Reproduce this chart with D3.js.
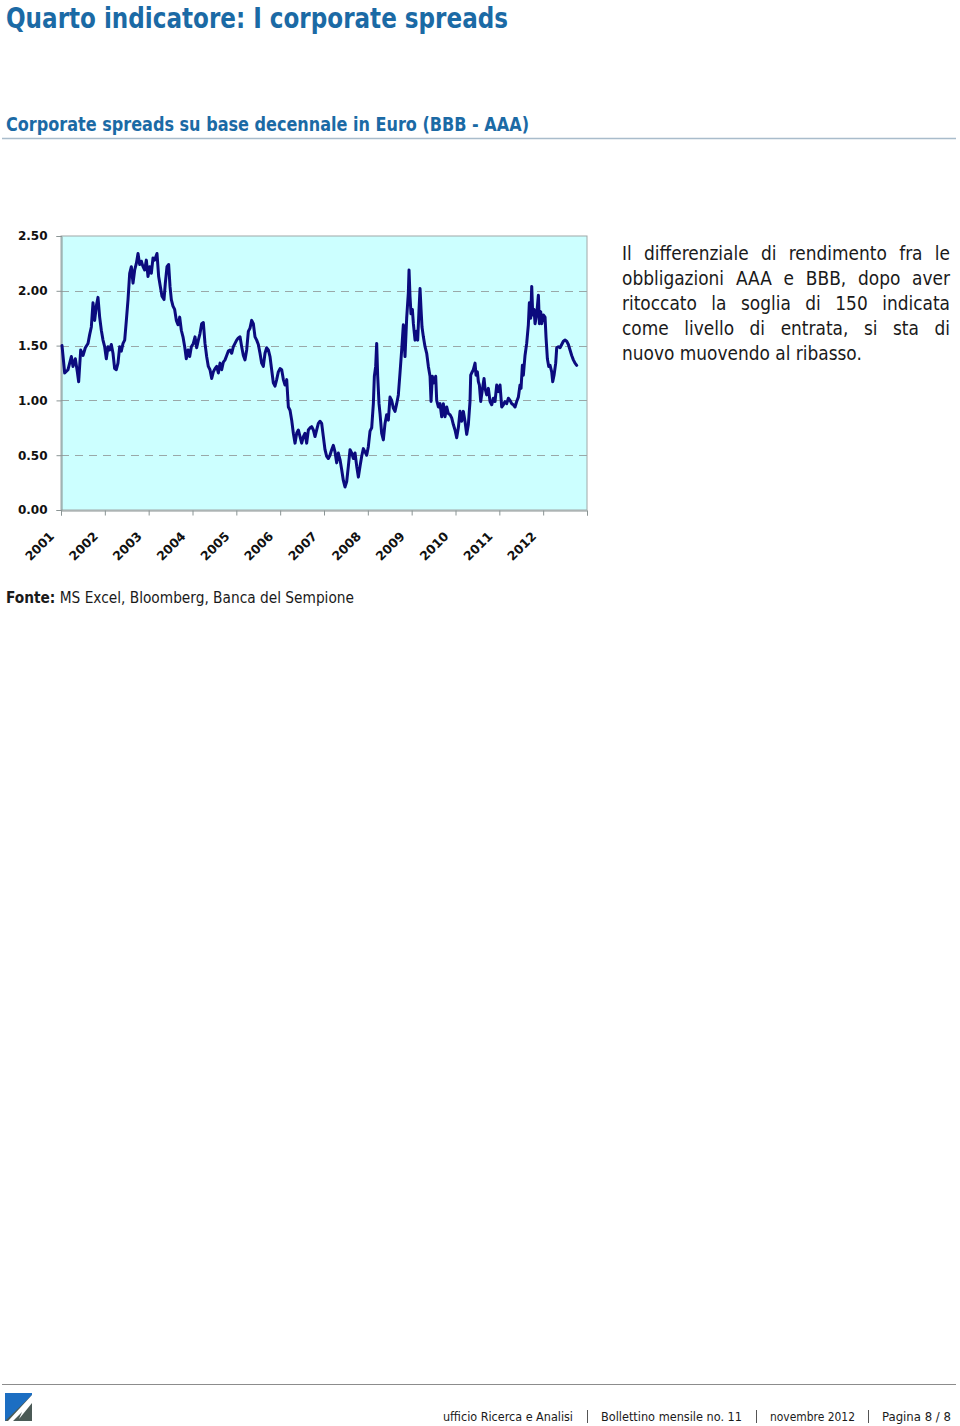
<!DOCTYPE html>
<html>
<head>
<meta charset="utf-8">
<script src="https://cdn.jsdelivr.net/npm/d3@7/dist/d3.min.js"></script>
<style>
  html, body { margin: 0; padding: 0; background: #fff; }
  svg { display: block; }
</style>
</head>
<body>
<svg id="page" width="960" height="1426"></svg>
<script>
// ---- Data ----
const years = ["2001","2002","2003","2004","2005","2006","2007","2008","2009","2010","2011","2012"];
const yTicks = [0, 0.5, 1.0, 1.5, 2.0, 2.5];

// decimal-year dates of the observations
const dates = [
2001.023,2001.084,2001.160,2001.236,2001.274,2001.327,2001.373,2001.403,2001.449,2001.502,2001.555,2001.616,2001.654,2001.692,2001.730,2001.768,2001.806,2001.844,2001.882,2001.920,2001.958,2001.996,
2002.034,2002.072,2002.110,2002.148,2002.186,2002.224,2002.262,2002.300,2002.339,2002.376,2002.415,2002.453,2002.491,2002.529,2002.567,2002.605,2002.643,2002.681,2002.719,2002.757,2002.795,2002.833,2002.871,2002.909,2002.947,2002.985,
2003.023,2003.061,2003.099,2003.137,2003.190,2003.228,2003.266,2003.304,2003.350,2003.380,2003.418,2003.456,2003.487,2003.517,2003.555,2003.593,2003.631,2003.669,2003.708,2003.745,2003.783,2003.822,2003.859,2003.898,2003.936,2003.974,
2004.019,2004.057,2004.095,2004.133,2004.171,2004.209,2004.247,2004.285,2004.323,2004.361,2004.399,2004.438,2004.475,2004.514,2004.552,2004.590,2004.628,2004.666,2004.704,2004.742,2004.780,2004.818,2004.856,2004.894,2004.932,2004.970,
2005.008,2005.046,2005.084,2005.122,2005.160,2005.198,2005.236,2005.274,2005.312,2005.350,2005.388,2005.426,2005.464,2005.502,2005.540,2005.578,2005.616,2005.654,2005.692,2005.730,2005.768,2005.806,2005.844,2005.882,2005.920,2005.958,2005.997,
2006.035,2006.073,2006.111,2006.149,2006.187,2006.225,2006.263,2006.301,2006.339,2006.377,2006.415,2006.453,2006.491,2006.529,2006.567,2006.605,2006.643,2006.681,2006.719,2006.757,2006.795,2006.833,2006.871,2006.909,2006.947,2006.985,
2007.023,2007.061,2007.099,2007.137,2007.175,2007.213,2007.251,2007.289,2007.327,2007.365,2007.403,2007.441,2007.479,2007.518,2007.556,2007.594,2007.632,2007.670,2007.708,2007.746,2007.784,2007.822,2007.860,2007.898,2007.936,2007.974,
2008.012,2008.050,2008.088,2008.126,2008.149,2008.179,2008.202,2008.225,2008.255,2008.278,2008.316,2008.354,2008.392,2008.430,2008.468,2008.506,2008.544,2008.582,2008.620,2008.658,2008.696,2008.734,2008.772,2008.810,2008.848,2008.886,2008.924,2008.940,2008.962,2008.985,
2009.016,2009.039,2009.077,2009.115,2009.137,2009.168,2009.191,2009.214,2009.236,2009.267,2009.305,2009.343,2009.381,2009.419,2009.442,2009.472,2009.510,2009.548,2009.571,2009.609,2009.647,2009.685,2009.723,2009.761,2009.799,2009.837,2009.875,2009.913,2009.951,2009.989,
2010.027,2010.065,2010.103,2010.141,2010.179,2010.217,2010.255,2010.293,2010.331,2010.347,2010.369,2010.407,2010.446,2010.468,2010.499,2010.522,2010.545,2010.575,2010.613,2010.651,2010.674,2010.712,2010.750,2010.788,2010.826,2010.864,2010.902,2010.940,2010.978,
2011.016,2011.054,2011.092,2011.130,2011.168,2011.206,2011.244,2011.282,2011.320,2011.358,2011.396,2011.434,2011.472,2011.495,2011.526,2011.548,2011.586,2011.624,2011.662,2011.685,2011.716,2011.739,2011.762,2011.792,2011.815,2011.853,2011.891,2011.914,2011.944,2011.967,
2012.005,2012.043,2012.066,2012.096,2012.127,2012.157,2012.195,2012.218,2012.248,2012.286,2012.309,2012.347,2012.385,2012.423,2012.461,2012.499,2012.537,2012.575,2012.613,2012.651,2012.689,2012.727,2012.765
];

// BBB - AAA spread (percentage points)
const spreads = [
1.50,1.25,1.28,1.40,1.31,1.38,1.26,1.17,1.46,1.41,1.48,1.52,1.60,1.67,1.89,1.73,1.86,1.94,1.76,1.64,1.55,1.49,
1.38,1.49,1.46,1.51,1.43,1.29,1.28,1.34,1.49,1.45,1.52,1.55,1.73,1.92,2.16,2.22,2.07,2.19,2.25,2.34,2.24,2.27,2.22,2.19,2.28,2.13,
2.22,2.16,2.30,2.28,2.34,2.13,2.04,1.95,1.92,2.07,2.22,2.24,2.04,1.92,1.86,1.83,1.73,1.69,1.76,1.64,1.58,1.49,1.38,1.46,1.40,1.49,
1.52,1.58,1.48,1.55,1.61,1.70,1.71,1.52,1.40,1.31,1.28,1.20,1.26,1.29,1.31,1.25,1.34,1.28,1.35,1.37,1.41,1.45,1.46,1.43,1.49,1.52,
1.55,1.57,1.58,1.49,1.41,1.37,1.46,1.63,1.66,1.73,1.70,1.58,1.55,1.51,1.43,1.34,1.31,1.43,1.48,1.46,1.40,1.28,1.16,1.13,1.19,1.26,1.29,
1.28,1.19,1.14,1.19,0.94,0.91,0.82,0.70,0.61,0.70,0.73,0.67,0.61,0.67,0.70,0.61,0.73,0.75,0.76,0.73,0.67,0.73,0.79,0.81,0.79,0.67,
0.55,0.49,0.47,0.50,0.55,0.59,0.53,0.43,0.52,0.46,0.37,0.27,0.21,0.26,0.40,0.55,0.52,0.47,0.52,0.40,0.30,0.40,0.49,0.56,0.53,0.50,
0.58,0.72,0.75,0.97,1.22,1.31,1.52,1.22,0.97,0.88,0.70,0.64,0.79,0.87,0.82,1.03,1.00,0.93,0.90,0.97,1.05,1.25,1.46,1.69,1.40,1.75,1.98,2.19,1.95,1.79,
1.83,1.70,1.55,1.63,1.55,1.83,2.02,1.83,1.67,1.58,1.49,1.43,1.31,1.22,0.99,1.22,1.16,1.22,1.00,0.94,0.97,0.85,0.97,0.85,0.94,0.88,0.87,0.84,0.78,0.73,
0.66,0.75,0.90,0.81,0.90,0.81,0.69,0.78,0.99,1.23,1.25,1.28,1.34,1.23,1.26,1.17,1.14,0.99,1.10,1.20,1.11,1.05,1.11,0.99,0.96,1.02,0.99,1.14,1.08,
1.14,0.94,0.96,0.99,0.97,1.02,1.00,0.97,0.96,0.94,0.99,1.03,1.14,1.11,1.32,1.23,1.41,1.52,1.69,1.89,1.75,2.04,1.78,1.83,1.70,1.79,1.96,1.70,1.81,1.70,
1.78,1.76,1.57,1.38,1.31,1.32,1.26,1.17,1.23,1.34,1.48,1.49,1.48,1.51,1.54,1.55,1.54,1.51,1.46,1.41,1.37,1.34,1.32
];

const paragraph = [
  "Il differenziale di rendimento fra le",
  "obbligazioni AAA e BBB, dopo aver",
  "ritoccato la soglia di 150 indicata",
  "come livello di entrata, si sta di",
  "nuovo muovendo al ribasso."
];
const footerParts = ["ufficio Ricerca e Analisi", "Bollettino mensile no. 11", "novembre 2012", "Pagina 8 / 8"];

// ---- Drawing ----
const svg = d3.select("#page");
const BLUE = "#1b6aa5";
const condensed = "'DejaVu Sans Condensed', 'Liberation Sans Narrow', 'DejaVu Sans', sans-serif";

svg.append("rect").attr("width", 960).attr("height", 1426).attr("fill", "#fff");

// Title
svg.append("text")
  .attr("x", 6).attr("y", 28)
  .attr("font-family", condensed).attr("font-weight", "bold")
  .attr("font-size", 29).attr("fill", BLUE)
  .attr("textLength", 502).attr("lengthAdjust", "spacingAndGlyphs")
  .text("Quarto indicatore: I corporate spreads");

// Subtitle
svg.append("text")
  .attr("x", 6).attr("y", 131)
  .attr("font-family", condensed).attr("font-weight", "bold")
  .attr("font-size", 20).attr("fill", BLUE)
  .attr("textLength", 523).attr("lengthAdjust", "spacingAndGlyphs")
  .text("Corporate spreads su base decennale in Euro (BBB - AAA)");

svg.append("line").attr("x1", 2).attr("x2", 956).attr("y1", 138.5).attr("y2", 138.5)
  .attr("stroke", "#a9bccb").attr("stroke-width", 1.5);

// Chart
const m = { left: 61, right: 587, top: 236, bottom: 510 };
const x = d3.scaleLinear().domain([2001, 2013]).range([m.left, m.right]);
const y = d3.scaleLinear().domain([0, 2.5]).range([m.bottom, m.top]);

const g = svg.append("g");
g.append("rect")
  .attr("x", m.left).attr("y", m.top)
  .attr("width", m.right - m.left).attr("height", m.bottom - m.top)
  .attr("fill", "#ccffff").attr("stroke", "#a0a8a8").attr("stroke-width", 1);

// dashed gridlines
g.selectAll("line.grid").data(yTicks.filter(d => d > 0 && d < 2.5)).enter()
  .append("line").attr("class", "grid")
  .attr("x1", m.left).attr("x2", m.right)
  .attr("y1", d => Math.round(y(d)) + 0.5).attr("y2", d => Math.round(y(d)) + 0.5)
  .attr("stroke", "#9aa8a8").attr("stroke-width", 1).attr("stroke-dasharray", "8,6");

// Y axis
const yAxis = d3.axisLeft(y).tickValues(yTicks).tickFormat(d3.format(".2f")).tickSize(5).tickPadding(9);
const ya = g.append("g").attr("transform", `translate(${m.left + 0.5},0)`).call(yAxis);
ya.select(".domain").attr("stroke", "#8a9494");
ya.selectAll(".tick line").attr("stroke", "#8a9494");
ya.selectAll(".tick text")
  .attr("font-family", "'DejaVu Sans', Verdana, sans-serif")
  .attr("font-weight", "bold").attr("font-size", 12).attr("fill", "#111");

// X axis
const tickYears = d3.range(2001, 2014);
const xAxis = d3.axisBottom(x).tickValues(tickYears).tickSize(5).tickFormat("");
const xa = g.append("g").attr("transform", `translate(0,${m.bottom + 0.5})`).call(xAxis);
xa.select(".domain").attr("stroke", "#8a9494");
xa.selectAll(".tick line").attr("stroke", "#8a9494");

g.selectAll("text.year").data(years).enter()
  .append("text").attr("class", "year")
  .attr("text-anchor", "end")
  .attr("transform", d => `translate(${x(+d) - 6},${m.bottom + 27}) rotate(-45)`)
  .attr("font-family", "'DejaVu Sans', Verdana, sans-serif")
  .attr("font-weight", "bold").attr("font-size", 12.5).attr("fill", "#111")
  .text(d => d);

// Line
const series = dates.map((d, i) => ({ t: d, v: spreads[i] }));
const line = d3.line().x(d => x(d.t)).y(d => y(d.v));
g.append("path").datum(series)
  .attr("d", line)
  .attr("fill", "none").attr("stroke", "#0b0b7e")
  .attr("stroke-width", 3).attr("stroke-linejoin", "round").attr("stroke-linecap", "round");

// Paragraph (justified)
const pX = 622, pW = 328, pY0 = 260, pLH = 25;
const pFont = condensed;
const meas = svg.append("text").attr("font-family", pFont).attr("font-size", 18).attr("visibility", "hidden");
meas.text(paragraph[4]);
const natural = meas.node().getComputedTextLength();
const pSize = Math.max(15, Math.min(21, 18 * 240 / natural));
meas.attr("font-size", pSize);
const pg = svg.append("g").attr("font-family", pFont).attr("font-size", pSize).attr("fill", "#1a1a1a");
paragraph.forEach((ln, i) => {
  const yy = pY0 + i * pLH;
  if (i === paragraph.length - 1) {
    pg.append("text").attr("x", pX).attr("y", yy).text(ln);
    return;
  }
  const words = ln.split(" ");
  const widths = words.map(w => { meas.text(w); return meas.node().getComputedTextLength(); });
  const total = d3.sum(widths);
  const gap = (pW - total) / (words.length - 1);
  let cx = pX;
  const t = pg.append("text").attr("y", yy);
  words.forEach((w, k) => {
    t.append("tspan").attr("x", cx).text(w);
    cx += widths[k] + gap;
  });
});
meas.remove();

// Source
const src = svg.append("text").attr("x", 6).attr("y", 603)
  .attr("font-family", condensed).attr("font-size", 16).attr("fill", "#1a1a1a");
src.append("tspan").attr("font-weight", "bold").text("Fonte:");
src.append("tspan").text(" MS Excel, Bloomberg, Banca del Sempione");
{
  const w = src.node().getComputedTextLength();
  src.attr("textLength", 348).attr("lengthAdjust", "spacingAndGlyphs");
}

// Footer
svg.append("line").attr("x1", 2).attr("x2", 956).attr("y1", 1384.5).attr("y2", 1384.5)
  .attr("stroke", "#8c8c8c").attr("stroke-width", 1.2);

// logo
const logo = svg.append("g").attr("transform", "translate(5,1393)");
logo.append("rect").attr("width", 27).attr("height", 28).attr("fill", "#4b5a56");
logo.append("path").attr("d", "M0,0 L27,0 L27,2 L0,28 Z").attr("fill", "#1c6ec2");
logo.append("path").attr("d", "M27,2 L3,28 L8,28 L17,19 L14,26 L27,10 Z").attr("fill", "#ffffff");

const fParts = [
  { t: footerParts[0], x0: 443, x1: 573 },
  { t: footerParts[1], x0: 601, x1: 742 },
  { t: footerParts[2], x0: 770, x1: 855 },
  { t: footerParts[3], x0: 882, x1: 951 }
];
const fg = svg.append("g").attr("font-family", "'Liberation Sans Narrow', 'DejaVu Sans Condensed', sans-serif")
  .attr("font-size", 13).attr("fill", "#1a1a1a");
fParts.forEach(p => {
  fg.append("text").attr("x", p.x0).attr("y", 1421)
    .attr("textLength", p.x1 - p.x0).attr("lengthAdjust", "spacingAndGlyphs").text(p.t);
});
[587, 756, 868].forEach(px => {
  svg.append("line").attr("x1", px + 0.5).attr("x2", px + 0.5).attr("y1", 1410).attr("y2", 1423)
    .attr("stroke", "#555").attr("stroke-width", 1);
});
</script>
</body>
</html>
